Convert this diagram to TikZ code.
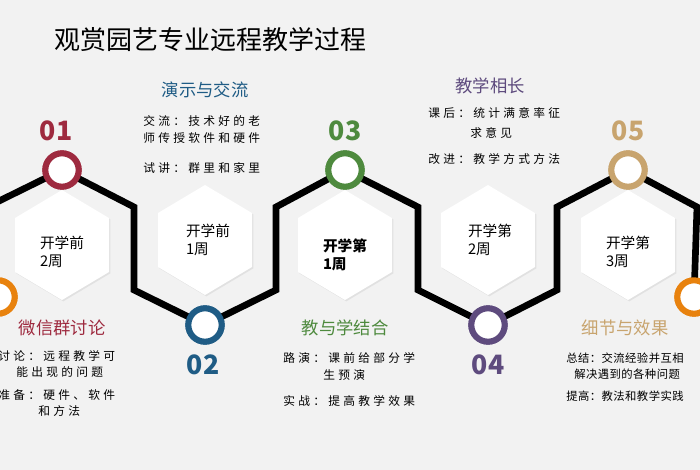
\documentclass[tikz,border=0pt]{standalone}
\usepackage{fontspec}
\setmainfont{Noto Sans CJK SC}
\newfontfamily\bodyfont[LetterSpace=28]{Noto Sans CJK SC}
\newfontfamily\bodyfontn[LetterSpace=4]{Noto Sans CJK SC}
\usetikzlibrary{shadows}
\definecolor{bg}{HTML}{F2F2F2}
\definecolor{cA}{HTML}{9E2A3F}
\definecolor{cB}{HTML}{1F5C85}
\definecolor{cC}{HTML}{4E8A3E}
\definecolor{cD}{HTML}{5E4B7E}
\definecolor{cE}{HTML}{C8A46E}
\definecolor{cF}{HTML}{E8820E}
\tikzset{
 ring/.style={circle,draw=#1,line width=4.5pt,fill=white,minimum size=25pt,inner sep=0pt},
 num/.style={text=#1,font=\fontsize{20}{20}\selectfont\bfseries},
 head/.style={text=#1,font=\fontsize{13}{13}\selectfont},
 body/.style={font=\bodyfont\fontsize{8.8}{8.8}\selectfont,anchor=west,inner sep=0pt},
 bodyn/.style={font=\bodyfontn\fontsize{8.5}{8.5}\selectfont,anchor=west,inner sep=0pt},
 hexlab/.style={font=\fontsize{11}{13}\selectfont,align=left},
 zig/.style={line width=5pt,line join=miter},
}
\begin{document}
\begin{tikzpicture}[x=0.75pt,y=-0.75pt]
\useasboundingbox (0,0) rectangle (700,470);
\fill[bg] (0,0) rectangle (700,470);
\node[anchor=west,font=\fontsize{19.5}{19.5}\selectfont] (title) at (50,40) {观赏园艺专业远程教学过程};
% hexagons
\foreach \i/\x/\y in {1/62/245,2/205/240,3/345/245,4/488/240,5/628/245}{
 \fill[white,drop shadow={opacity=0.15,shadow xshift=1pt,shadow yshift=-1pt}]
   (\x,\y-55) -- (\x+47,\y-27) -- (\x+47,\y+27) -- (\x,\y+55) -- (\x-47,\y+27) -- (\x-47,\y-27) -- cycle;
}
% zigzag path
\coordinate (l0) at (-5,203);
\coordinate (p1) at (134,207); \coordinate (p2) at (134,290);
\coordinate (p3) at (276,290); \coordinate (p4) at (276,207);
\coordinate (p5) at (418,207); \coordinate (p6) at (418,290);
\coordinate (p7) at (557,290); \coordinate (p8) at (557,207);
\coordinate (p9) at (697,207);
\node[ring=cA] (c1) at (62,170) {};
\node[ring=cB] (c2) at (205,325) {};
\node[ring=cC] (c3) at (345,170) {};
\node[ring=cD] (c4) at (488,325) {};
\node[ring=cE] (c5) at (628,170) {};
\node[ring=cF] (c0) at (-2,297) {};
\node[ring=cF] (c6) at (694,297) {};
\draw[zig] (l0) -- (c1.center) -- (p1) -- (p2) -- (c2.center) -- (p3) -- (p4) -- (c3.center) -- (p5) -- (p6) -- (c4.center) -- (p7) -- (p8) -- (c5.center) -- (p9) -- (c6.center);
\foreach \n/\c in {c1/cA,c2/cB,c3/cC,c4/cD,c5/cE,c0/cF,c6/cF}{\node[ring=\c] at (\n) {};}
% numbers
\node[num=cA] (n1) at (56,131) {01};
\node[num=cB] (n2) at (203,365) {02};
\node[num=cC] (n3) at (345,131) {03};
\node[num=cD] (n4) at (488,365) {04};
\node[num=cE] (n5) at (628,131) {05};
% hex labels
\node[hexlab] (h1) at (62,252) {开学前\\2周};
\node[hexlab] (h2) at (208,240) {开学前\\1周};
\node[hexlab,font=\fontsize{11}{13}\selectfont\bfseries] (h3) at (345,255) {开学第\\1周};
\node[hexlab] (h4) at (490,240) {开学第\\2周};
\node[hexlab] (h5) at (628,252) {开学第\\3周};
% headings
\node[head=cA] (t1) at (62,328) {微信群讨论};
\node[head=cB] (t2) at (205,90) {演示与交流};
\node[head=cC] (t3) at (345,328) {教与学结合};
\node[head=cD] (t4) at (490,86) {教学相长};
\node[head=cE] (t5) at (625,328) {细节与效果};
% bodies
\node[body] (b1a) at (-2,356) {讨论：远程教学可};
\node[body] (b1b) at (16,372) {能出现的问题};
\node[body] (b1c) at (-2,395) {准备：硬件、软件};
\node[body] (b1d) at (38,411) {和方法};
\node[body] (b2a) at (143,121) {交流：技术好的老};
\node[body] (b2b) at (143,138) {师传授软件和硬件};
\node[body] (b2c) at (143,168) {试讲：群里和家里};
\node[body] (b3a) at (283,358) {路演：课前给部分学};
\node[body] (b3b) at (323,375) {生预演};
\node[body] (b3c) at (283,401) {实战：提高教学效果};
\node[body] (b4a) at (428,113) {课后：统计满意率征};
\node[body] (b4b) at (470,133) {求意见};
\node[body] (b4c) at (428,159) {改进：教学方式方法};
\node[bodyn] (b5a) at (566,358) {总结：交流经验并互相};
\node[bodyn] (b5b) at (574,374) {解决遇到的各种问题};
\node[bodyn] (b5c) at (566,396) {提高：教法和教学实践};
\end{tikzpicture}
\end{document}
